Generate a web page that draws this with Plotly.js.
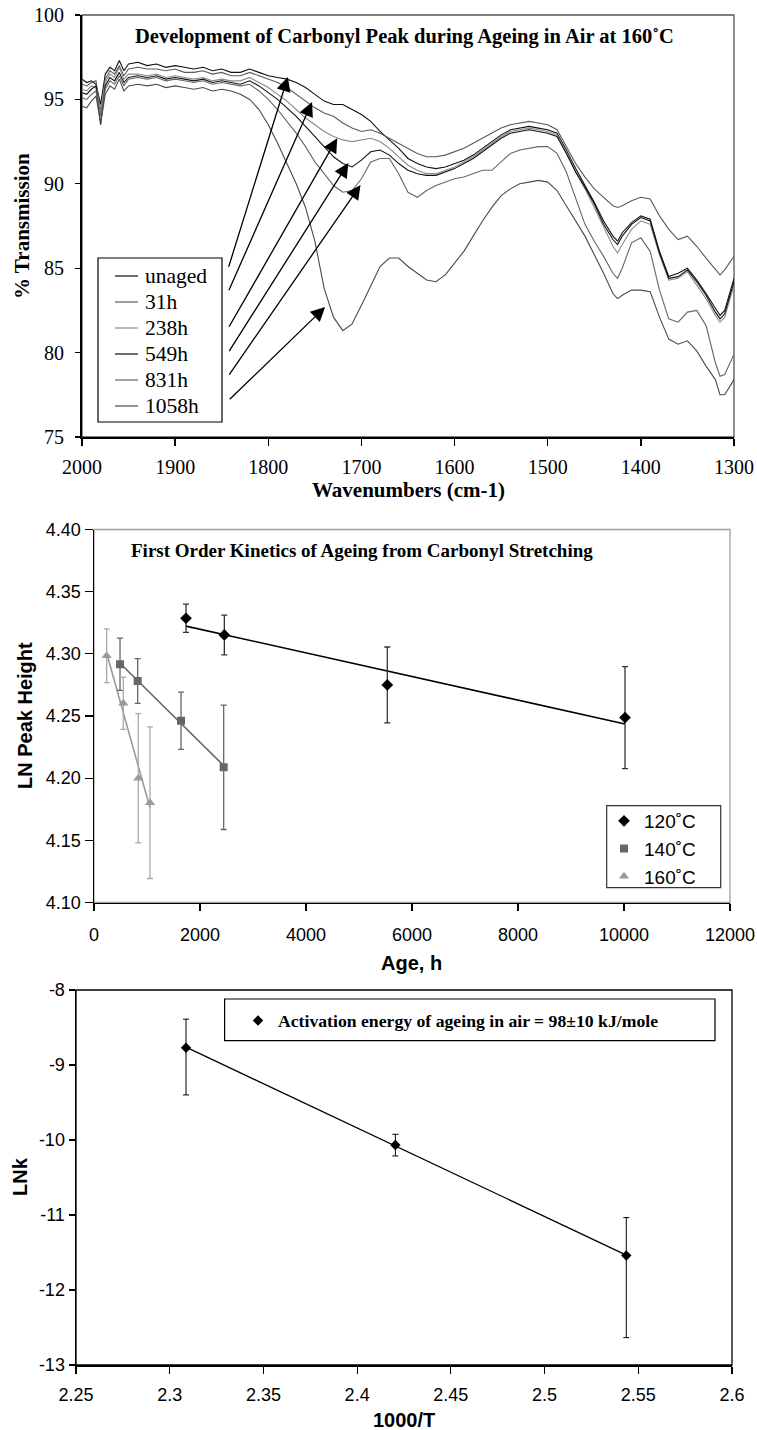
<!DOCTYPE html>
<html><head><meta charset="utf-8">
<script src="https://cdn.plot.ly/plotly-3.0.1.min.js"></script>
<style>html,body{margin:0;padding:0;background:#fff}#chart{width:757px;height:1430px}</style>
</head><body><div id="chart"></div>
<script>
// ---------- Panel 1 data: FTIR spectra ----------
const wavenumbers = [2000,1995,1990,1985,1980,1975,1970,1965,1960,1955,1950,
1940,1930,1920,1910,1900,1890,1880,1870,1860,1850,
1840,1830,1820,1810,1800,1790,1780,1770,1760,1750,
1740,1730,1720,1710,1700,1690,1680,1670,1660,1650,
1640,1630,1620,1610,1600,1590,1580,1570,1560,1550,
1540,1530,1520,1510,1500,1490,1480,1470,1460,1450,
1440,1430,1425,1420,1410,1400,1390,1380,1370,1360,
1350,1340,1330,1320,1315,1310,1300];
const unaged = [96.2,96.0,96.1,95.9,94.7,96.5,96.9,96.7,97.3,96.7,97.1,
97.2,97.0,97.1,96.9,97.0,96.9,96.8,96.9,96.7,96.8,
96.6,96.6,96.8,96.6,96.4,96.3,96.2,96.0,95.7,95.3,
94.9,94.7,94.7,94.4,94.1,93.7,93.1,92.6,92.1,91.5,
91.2,91.0,90.9,91.0,91.2,91.4,91.7,92.1,92.5,92.9,
93.2,93.3,93.4,93.3,93.2,93.0,92.0,90.9,89.9,88.9,
87.8,86.9,86.6,87.1,87.7,88.1,87.9,86.0,84.5,84.7,
85.0,84.3,83.5,82.6,82.2,82.5,84.4];
const aged31h = [95.9,95.8,96.0,96.1,94.3,96.2,96.7,96.5,97.0,96.4,96.8,
96.9,96.8,96.8,96.7,96.8,96.6,96.6,96.7,96.5,96.6,
96.4,96.4,96.6,96.4,96.2,96.0,95.7,95.3,94.9,94.5,
94.2,94.0,93.6,93.3,93.1,93.2,93.0,92.7,92.4,92.1,
91.8,91.6,91.6,91.7,91.9,92.1,92.4,92.7,93.0,93.3,
93.5,93.6,93.7,93.6,93.5,93.2,92.2,91.2,90.4,89.7,
89.2,88.7,88.6,88.7,89.0,89.2,89.1,88.1,87.3,86.7,
86.9,86.3,85.6,84.9,84.6,84.9,85.7];
const aged238h = [95.6,95.5,95.8,95.7,94.2,96.0,96.5,96.3,96.9,96.2,96.5,
96.5,96.4,96.5,96.3,96.4,96.3,96.2,96.3,96.1,96.2,
96.1,96.1,96.3,96.0,95.7,95.3,94.9,94.4,93.9,93.5,
93.1,92.8,92.6,92.5,92.6,92.7,92.5,92.1,91.6,91.1,
90.8,90.6,90.6,90.8,91.0,91.3,91.6,92.0,92.4,92.8,
93.1,93.2,93.3,93.2,93.1,92.9,91.9,90.7,89.7,88.6,
87.4,86.3,85.9,86.4,87.3,87.8,87.6,85.8,84.3,84.4,
84.8,84.0,83.2,82.2,81.8,82.1,84.0];
const aged549h = [95.4,95.3,95.6,95.8,93.5,95.8,96.3,96.1,96.6,96.0,96.3,
96.4,96.3,96.4,96.2,96.3,96.2,96.1,96.2,96.0,96.1,
96.0,95.9,96.1,95.8,95.4,95.0,94.5,94.0,93.4,92.8,
92.2,91.6,91.2,91.0,91.4,91.9,92.0,91.7,91.2,90.8,
90.6,90.5,90.5,90.7,90.9,91.2,91.5,91.9,92.3,92.7,
93.0,93.1,93.2,93.1,93.0,92.8,91.8,90.7,89.8,88.8,
87.6,86.7,86.4,86.9,87.6,88.0,87.8,85.9,84.4,84.5,
84.9,84.2,83.4,82.4,82.0,82.3,84.2];
const aged831h = [95.1,95.0,95.3,95.5,94.0,95.6,96.1,95.9,96.4,95.8,96.2,
96.3,96.2,96.3,96.1,96.2,96.1,96.0,96.1,95.9,96.0,
95.9,95.8,95.9,95.5,95.0,94.4,93.7,93.0,92.2,91.3,
90.6,89.9,89.5,89.6,90.3,91.3,91.5,91.5,90.6,89.5,
89.2,89.6,89.9,90.1,90.3,90.4,90.6,90.8,90.8,91.3,
91.8,92.0,92.1,92.2,92.2,91.8,90.7,89.1,87.6,86.6,
85.7,84.7,84.4,85.0,86.5,86.8,86.0,83.7,82.0,81.8,
82.4,82.5,81.6,79.4,78.6,78.7,79.9];
const aged1058h = [94.6,94.5,94.9,95.2,93.6,95.3,95.8,95.6,96.2,95.5,95.8,
95.9,95.8,95.9,95.7,95.8,95.7,95.6,95.7,95.5,95.6,
95.5,95.3,95.0,94.4,93.5,92.4,91.2,90.0,88.6,86.6,
83.8,82.1,81.3,81.7,82.8,84.0,85.1,85.6,85.6,85.1,
84.7,84.3,84.2,84.6,85.3,86.0,86.9,87.8,88.6,89.3,
89.7,90.0,90.1,90.2,90.1,89.6,88.7,87.8,86.9,85.8,
84.7,83.5,83.2,83.4,83.7,83.7,83.6,82.1,80.8,80.5,
80.7,80.1,79.2,78.4,77.5,77.5,78.4];
const spectrumNames = ['unaged','31h','238h','549h','831h','1058h'];
const spectra = [unaged, aged31h, aged238h, aged549h, aged831h, aged1058h];
const spectrumColors = ['#111111','#5a5a5a','#8a8a8a','#111111','#666666','#4a4a4a'];

// arrows (tail -> tip) in data units
const arrowTailWn = [1843,1843,1843,1843,1843,1843];
const arrowTailTr = [85.0,83.6,81.44,80.0,78.61,77.15];
const arrowTipWn  = [1779,1753,1726,1714,1701,1739];
const arrowTipTr  = [96.33,94.85,92.7,91.23,89.93,82.7];

// ---------- Panel 2 data: first order kinetics ----------
const age120 = [1736,2459,5534,10019];
const ln120  = [4.3286,4.3152,4.275,4.2487];
const err120 = [0.0113,0.016,0.0305,0.041];
const age140 = [491,824,1642,2447];
const ln140  = [4.2916,4.2782,4.2462,4.2087];
const err140 = [0.021,0.018,0.023,0.050];
const age160 = [239,553,836,1057];
const ln160  = [4.2985,4.2602,4.1999,4.1803];
const err160 = [0.0216,0.021,0.052,0.061];
const fitAge120 = [1736,10019], fitLn120 = [4.3223,4.2436];
const fitAge140 = [491,2447],   fitLn140 = [4.2924,4.2101];
const fitAge160 = [239,1057],   fitLn160 = [4.3004,4.1760];
const kineticsNames = ['120˚C','140˚C','160˚C'];

// ---------- Panel 3 data: Arrhenius ----------
const invT = [2.3087,2.4204,2.5436];
const lnk = [-8.769,-10.067,-11.54];
const lnkErrUp = [0.38,0.143,0.505];
const lnkErrDown = [0.63,0.146,1.095];
const fitInvT = [2.3087,2.5436], fitLnk = [-8.762,-11.534];
const arrheniusName = 'Activation energy of ageing in air = 98±10 kJ/mole';
const lnkTickVals = [-13,-12,-11,-10,-9,-8];
const lnkTickText = ['-13','-12','-11','-10','-9','-8'];

// ---------- layout helpers ----------
const W = 757, H = 1430;
const px = v => v / W;
const py = v => 1 - v / H;
const P1 = {l:82, r:734, t:15, b:437};
const P2 = {l:94, r:730, t:529.5, b:902.5};
const P3 = {l:76, r:732, t:990, b:1365};
const SERIF = 'Liberation Serif, Times New Roman, serif';
const SANS = 'Liberation Sans, Arial, sans-serif';

const traces = [];
spectra.forEach((s, i) => traces.push({
  x: wavenumbers, y: s, xaxis:'x', yaxis:'y', type:'scatter', mode:'lines',
  name: spectrumNames[i], showlegend:false,
  line:{color: spectrumColors[i], width:1.1}
}));

// panel 2 fit lines
[[fitAge120,fitLn120,'#000'],[fitAge140,fitLn140,'#666'],[fitAge160,fitLn160,'#9a9a9a']].forEach(f => traces.push({
  x:f[0], y:f[1], xaxis:'x2', yaxis:'y2', type:'scatter', mode:'lines', showlegend:false,
  line:{color:f[2], width:1.6}, hoverinfo:'skip'
}));
const kin = [
  [age120, ln120, err120, 'diamond', '#000', '#333', 9],
  [age140, ln140, err140, 'square', '#666', '#666', 8],
  [age160, ln160, err160, 'triangle-up', '#9a9a9a', '#aaaaaa', 9]
];
kin.forEach((k, i) => traces.push({
  x:k[0], y:k[1], xaxis:'x2', yaxis:'y2', type:'scatter', mode:'markers',
  name: kineticsNames[i], legend:'legend2',
  marker:{symbol:k[3], color:k[4], size:k[6]},
  error_y:{type:'data', array:k[2], visible:true, color:k[5], thickness:1.3, width:3}
}));

// panel 3
traces.push({x:fitInvT, y:fitLnk, xaxis:'x3', yaxis:'y3', type:'scatter', mode:'lines',
  showlegend:false, line:{color:'#000', width:1.3}});
traces.push({x:invT, y:lnk, xaxis:'x3', yaxis:'y3', type:'scatter', mode:'markers',
  name:'<b>'+arrheniusName+'</b>', legend:'legend3',
  marker:{symbol:'diamond', color:'#000', size:8},
  error_y:{type:'data', symmetric:false, array:lnkErrUp, arrayminus:lnkErrDown, visible:true,
    color:'#000', thickness:1, width:3}});

const axBase = {showgrid:false, zeroline:false, showline:true, linecolor:'#000', tickcolor:'#000', fixedrange:true};

const annotations = [];
const shapes = [
  {type:'rect', xref:'x domain', yref:'y domain', x0:0, x1:1, y0:0, y1:1, line:{color:'#555', width:1.3}, layer:'below'},
  {type:'rect', xref:'x2 domain', yref:'y2 domain', x0:0, x1:1, y0:0, y1:1, line:{color:'#a0a0a0', width:1.3}, layer:'below'},
  {type:'rect', xref:'x3 domain', yref:'y3 domain', x0:0, x1:1, y0:0, y1:1, line:{color:'#000', width:1.3}, layer:'below'},
  // panel 3 legend frame
  {type:'rect', xref:'paper', yref:'paper', x0:px(224.6), x1:px(715), y0:py(1040.7), y1:py(999), line:{color:'#000', width:1.2}},
  // panel 2 legend frame
  {type:'rect', xref:'paper', yref:'paper', x0:px(606.7), x1:px(720.7), y0:py(887.7), y1:py(805.7), line:{color:'#333', width:1.2}, fillcolor:'#fff', layer:'above'},
  // panel 1 legend frame
  {type:'rect', xref:'paper', yref:'paper', x0:px(98), x1:px(222), y0:py(422), y1:py(258), line:{color:'#000', width:1.2}, fillcolor:'#fff', layer:'above'}
];
// panel 1 legend (drawn from the series names and colours)
spectrumNames.forEach((n, i) => {
  const yy = 276 + 26 * i;
  shapes.push({type:'line', xref:'paper', yref:'paper', x0:px(115), x1:px(138), y0:py(yy), y1:py(yy),
    line:{color:spectrumColors[i], width:1.2}, layer:'above'});
  annotations.push({xref:'paper', yref:'paper', x:px(143), y:py(yy), xanchor:'left', yanchor:'middle',
    showarrow:false, text:n, font:{family:SERIF, size:21.5, color:'#000'}});
});

arrowTipWn.forEach((w, i) => annotations.push({
  xref:'x', yref:'y', axref:'x', ayref:'y', x:w, y:arrowTipTr[i], ax:arrowTailWn[i], ay:arrowTailTr[i],
  text:'', showarrow:true, arrowhead:2, arrowsize:2.2, arrowwidth:1.3, arrowcolor:'#000', standoff:0
}));
const txt = (text, x, y, font, extra) => Object.assign({xref:'paper', yref:'paper', x:px(x), y:py(y),
  xanchor:'center', yanchor:'middle', showarrow:false, text, font}, extra||{});
annotations.push(txt('<b>Development of Carbonyl Peak during Ageing in Air at 160˚C</b>', 405, 37, {family:SERIF, size:20.5, color:'#000'}));
annotations.push(txt('<b>% Transmission</b>', 22, 226, {family:SERIF, size:21, color:'#000'}, {textangle:-90}));
annotations.push(txt('<b>Wavenumbers (cm-1)</b>', 408, 490, {family:SERIF, size:21, color:'#000'}));
annotations.push(txt('<b>First Order Kinetics of Ageing from Carbonyl Stretching</b>', 362, 550, {family:SERIF, size:19, color:'#000'}));
annotations.push(txt('<b>Age, h</b>', 411, 963, {family:SANS, size:20, color:'#000'}));
annotations.push(txt('<b>LN Peak Height</b>', 25, 716, {family:SANS, size:20, color:'#000'}, {textangle:-90}));
annotations.push(txt('<b>1000/T</b>', 404, 1420, {family:SANS, size:20, color:'#000'}));
annotations.push(txt('<b>LNk</b>', 20, 1177, {family:SANS, size:20, color:'#000'}, {textangle:-90}));

const layout = {
  width:W, height:H, margin:{l:0,r:0,t:0,b:0}, paper_bgcolor:'#fff', plot_bgcolor:'#fff',
  showlegend:true,
  xaxis: Object.assign({}, axBase, {domain:[px(P1.l),px(P1.r)], anchor:'y', range:[2000,1300], tickmode:'linear', tick0:1300, dtick:100,
    ticks:'outside', ticklen:7, tickwidth:1.3, linewidth:2, ticklabelstandoff:4, tickfont:{family:SERIF, size:20, color:'#000'}}),
  xaxis4: {overlaying:'x', anchor:'y', range:[2000,1300], tickmode:'linear', tick0:1300, dtick:100, ticks:'inside', ticklen:7, tickwidth:1.3,
    tickcolor:'#000', showticklabels:false, showline:false, showgrid:false, zeroline:false, fixedrange:true},
  yaxis: Object.assign({}, axBase, {domain:[py(P1.b),py(P1.t)], anchor:'x', range:[75,100], tickmode:'linear', tick0:75, dtick:5,
    ticks:'outside', ticklen:5, tickwidth:1.3, linewidth:2, ticklabelstandoff:7, tickfont:{family:SERIF, size:20, color:'#000'}}),
  xaxis2: Object.assign({}, axBase, {domain:[px(P2.l),px(P2.r)], anchor:'y2', range:[0,12000], tickmode:'linear', tick0:0, dtick:2000,
    tickformat:'d', ticks:'outside', ticklen:7, tickwidth:1.2, linewidth:1.5, ticklabelstandoff:8, tickfont:{family:SANS, size:18, color:'#000'}}),
  yaxis2: Object.assign({}, axBase, {domain:[py(P2.b),py(P2.t)], anchor:'x2', range:[4.10,4.40], tickmode:'linear', tick0:4.10, dtick:0.05,
    tickformat:'.2f', ticks:'outside', ticklen:8, tickwidth:1.2, linewidth:1.5, tickfont:{family:SANS, size:18, color:'#000'}}),
  xaxis3: Object.assign({}, axBase, {domain:[px(P3.l),px(P3.r)], anchor:'y3', range:[2.25,2.6], tickmode:'linear', tick0:2.25, dtick:0.05,
    ticks:'outside', ticklen:7, tickwidth:1.2, linewidth:1.5, ticklabelstandoff:6, tickfont:{family:SANS, size:18, color:'#000'}}),
  yaxis3: Object.assign({}, axBase, {domain:[py(P3.b),py(P3.t)], anchor:'x3', range:[-13,-8], tickmode:'array', tickvals:lnkTickVals, ticktext:lnkTickText,
    ticks:'outside', ticklen:6, tickwidth:1.2, linewidth:1.5, tickfont:{family:SANS, size:18, color:'#000'}}),
  legend2: {x:px(604), y:py(802), xanchor:'left', yanchor:'top', bgcolor:'rgba(0,0,0,0)', borderwidth:0,
    font:{family:SANS, size:19, color:'#000'}, tracegroupgap:0, itemwidth:30},
  legend3: {x:px(238), y:py(1021), xanchor:'left', yanchor:'middle', bgcolor:'rgba(0,0,0,0)', borderwidth:0,
    font:{family:SERIF, size:17.7, color:'#000'}, itemwidth:30},
  shapes,
  annotations
};
Plotly.newPlot('chart', traces, layout, {staticPlot:true, displayModeBar:false});
</script>
</body></html>
